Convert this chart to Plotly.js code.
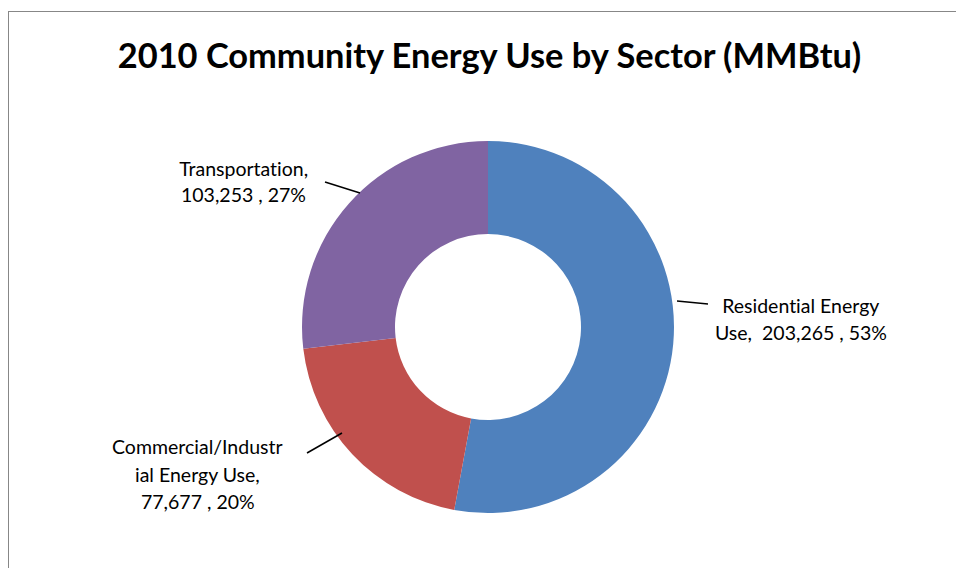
<!DOCTYPE html>
<html>
<head>
<meta charset="utf-8">
<script src="https://cdn.plot.ly/plotly-3.0.1.min.js"></script>
<style>
html,body{margin:0;padding:0;background:#fff;}
#wrap{position:relative;width:956px;height:568px;overflow:hidden;}
#frame{position:absolute;left:8px;top:11px;width:1000px;height:700px;border:1.5px solid #878787;box-sizing:border-box;pointer-events:none;z-index:2;}
#chart{position:absolute;left:0;top:0;width:956px;height:568px;}
#chart text{font-variant-ligatures:none;font-feature-settings:"liga" 0;}
</style>
</head>
<body>
<div id="wrap"><div id="chart"></div><div id="frame"></div></div>
<script>
var categories = ["Residential Energy Use", "Commercial/Industrial Energy Use", "Transportation"];
var values = [203265, 77677, 103253];
var colors = ["#4F81BD", "#C0504D", "#8064A2"];
var labelLines = [["Residential Energy", "Use, "], ["Commercial/Industr", "ial Energy Use,"], ["Transportation,"]];
var titleText = "2010 Community Energy Use by Sector (MMBtu)";

var total = values.reduce(function(a,b){return a+b;},0);
function fmt(v){return v.toLocaleString("en-US");}
function labelTextLines(i){
  var lines = labelLines[i].slice();
  var tail = fmt(values[i]) + " , " + Math.round(values[i]/total*100) + "%";
  if (i === 0) { lines[lines.length-1] = lines[lines.length-1] + "&nbsp;" + tail; }
  else { lines.push(tail); }
  return lines;
}

var W = 956, H = 568;
function px(x){return x/W;}
function py(y){return 1 - y/H;}

var trace = {
  type: "pie",
  labels: categories,
  values: values,
  hole: 0.5,
  sort: false,
  direction: "clockwise",
  rotation: 0,
  textinfo: "none",
  hoverinfo: "label+value+percent",
  marker: {colors: colors, line: {width: 0}},
  domain: {x: [px(488-186), px(488+186)], y: [py(327+186), py(327-186)]},
  showlegend: false
};

var labelPos = [
  {x: 800.5, y: [305, 332.5]},
  {x: 197.5, y: [446.5, 474, 501.5]},
  {x: 243, y: [168, 195]}
];
var leaders = [
  [677, 301, 708, 304],
  [307, 453, 342, 433],
  [325, 182, 360, 193]
];

var annotations = [];
labelPos.forEach(function(p, i){
  var lines = labelTextLines(i);
  lines.forEach(function(t, j){
    annotations.push({xref: "paper", yref: "paper", x: px(p.x), y: py(p.y[j]), xanchor: "center", yanchor: "middle",
      text: t, showarrow: false, align: "center",
      font: {family: "Lato, 'Open Sans', sans-serif", size: 19.5, color: "#000"}});
  });
});
var shapes = leaders.map(function(l){
  return {type: "line", xref: "paper", yref: "paper", x0: px(l[0]), y0: py(l[1]), x1: px(l[2]), y1: py(l[3]),
    line: {color: "#000", width: 1.5}};
});

var layout = {
  width: W, height: H,
  margin: {l: 0, r: 0, t: 0, b: 0},
  paper_bgcolor: "#fff",
  title: {text: "<b>" + titleText + "</b>", x: px(489.5), xanchor: "center", y: py(56), yanchor: "middle",
    font: {family: "Lato, 'Open Sans', sans-serif", size: 34.4, color: "#000"}},
  annotations: annotations,
  shapes: shapes
};
Plotly.newPlot("chart", [trace], layout, {displayModeBar: false, staticPlot: true});
</script>
</body>
</html>
